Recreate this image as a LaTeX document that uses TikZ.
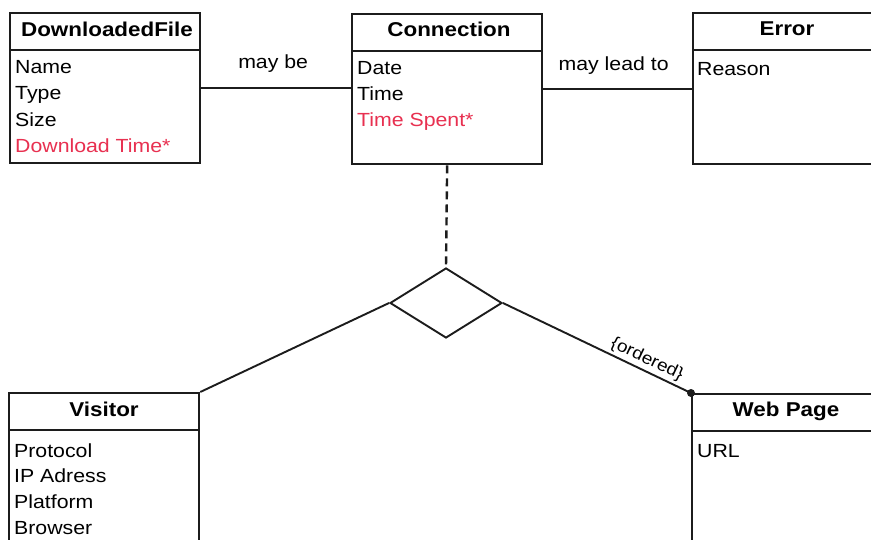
\documentclass[tikz,border=0pt]{standalone}
\usepackage{fontspec}
\setmainfont{Liberation Sans}[FakeStretch=1.12]
\usetikzlibrary{shapes.geometric}
\definecolor{attrred}{RGB}{232,48,80}
\definecolor{ink}{RGB}{28,28,28}

\begin{document}
\begin{tikzpicture}[x=1pt,y=-1pt,
  classbox/.style={draw=ink, line width=2.3pt, rectangle, anchor=north west,
    minimum width=190pt, inner sep=0pt},
  classtitle/.style={font=\fontsize{20}{24}\selectfont\bfseries, anchor=base, inner sep=0pt},
  attr/.style={font=\fontsize{19}{23}\selectfont, anchor=base west, inner sep=0pt},
  derived/.style={attr, text=attrred},
  link/.style={draw=ink, line width=1.9pt},
  rolelabel/.style={font=\fontsize{19}{23}\selectfont, inner sep=0pt, anchor=base},
]
\clip (0,0) rectangle (871,540);
\fill[white] (0,0) rectangle (871,540);

% class boxes
\node[classbox, minimum height=150pt] (df)    at (9,12)   {};
\node[classbox, minimum height=150pt] (conn)  at (351,13) {};
\node[classbox, minimum height=151pt] (err)   at (692,12) {};
\node[classbox, minimum height=170pt] (vis)   at (8,392)  {};
\node[classbox, minimum height=170pt] (page)  at (691,393){};

% header separators
\foreach \b in {df,conn,err,vis,page}
  \draw[ink, line width=2.3pt] ([yshift=-38pt]\b.north west) -- ([yshift=-38pt]\b.north east);

% titles
\node[classtitle] (dftitle)   at (107,37)  {DownloadedFile};
\node[classtitle] (conntitle) at (449,37)  {Connection};
\node[classtitle] (errtitle)  at (787,36)  {Error};
\node[classtitle] (vistitle)  at (104,416) {Visitor};
\node[classtitle] (pagetitle) at (786,416) {Web Page};

% attributes
\node[attr]    (dfname) at (15,74)  {Name};
\node[attr]    (dftype) at (15,100) {Type};
\node[attr]    (dfsize) at (15,127) {Size};
\node[derived] (dftime) at (15,153) {Download Time*};

\node[attr]    (cdate)  at (357,75)  {Date};
\node[attr]    (ctime)  at (357,101) {Time};
\node[derived] (cspent) at (357,127) {Time Spent*};

\node[attr]    (ereason) at (697,76) {Reason};

\node[attr] (vproto) at (14,457) {Protocol};
\node[attr] (vip)    at (14,482) {IP Adress};
\node[attr] (vplat)  at (14,508) {Platform};
\node[attr] (vbrow)  at (14,534) {Browser};

\node[attr] (purl) at (697,457) {URL};

% associations
\draw[link] (df.east) -- (df.east -| conn.west)
  node[rolelabel, midway, yshift=19.5pt, xshift=-3pt] (maybe) {may be};
\draw[link] (conn.east) -- (conn.east -| err.west)
  node[rolelabel, midway, yshift=19pt, xshift=-4pt] (maylead) {may lead to};

% ternary association diamond
\node[draw=ink, line width=1.9pt, diamond, minimum width=112pt, minimum height=70pt,
  inner sep=0pt] (assoc) at (446,303) {};
\draw[link, line width=2.4pt, dash pattern=on 8pt off 5pt] (conn.south) -- (assoc.north);
\draw[link] (assoc.west) -- (vis.north east);
\draw[link] (assoc.east) -- (page.north west)
  node[pos=0.74, above, sloped, inner sep=2.5pt, font=\fontsize{17}{20}\selectfont] (ord) {\{ordered\}};
\fill[ink] (page.north west) circle (4pt);
\end{tikzpicture}
\end{document}
